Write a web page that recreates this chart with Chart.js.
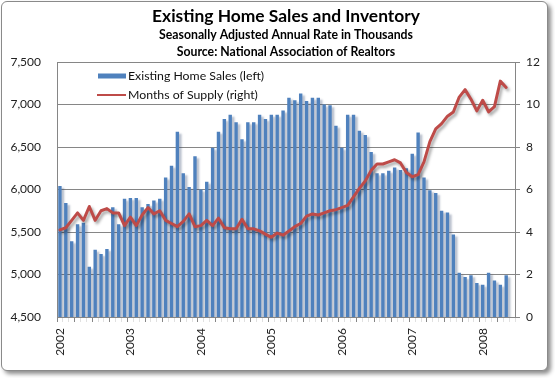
<!DOCTYPE html>
<html><head><meta charset="utf-8">
<script src="https://cdn.jsdelivr.net/npm/chart.js@4.4.1/dist/chart.umd.min.js"></script>
<style>
html,body{margin:0;padding:0;background:#fff;}
#frame{position:absolute;left:1px;top:1px;width:545px;height:368px;border:1px solid #8a8a8a;border-radius:6px;box-shadow:3px 3px 4px rgba(0,0,0,0.45);background:#fff;}
#wrap{position:absolute;left:0;top:0;width:555px;height:378px;}
</style></head><body>
<div id="frame"></div>
<div id="wrap"><canvas id="c" width="555" height="378"></canvas></div>
<script>
const titleText = 'Existing Home Sales and Inventory';
const subtitleLines = ['Seasonally Adjusted Annual Rate in Thousands', 'Source: National Association of Realtors'];
const seriesNames = ['Existing Home Sales (left)', 'Months of Supply (right)'];
const yearTicks = ['2002','2003','2004','2005','2006','2007','2008'];
const months = [
 '2002-01','2002-02','2002-03','2002-04','2002-05','2002-06','2002-07','2002-08','2002-09','2002-10','2002-11','2002-12',
 '2003-01','2003-02','2003-03','2003-04','2003-05','2003-06','2003-07','2003-08','2003-09','2003-10','2003-11','2003-12',
 '2004-01','2004-02','2004-03','2004-04','2004-05','2004-06','2004-07','2004-08','2004-09','2004-10','2004-11','2004-12',
 '2005-01','2005-02','2005-03','2005-04','2005-05','2005-06','2005-07','2005-08','2005-09','2005-10','2005-11','2005-12',
 '2006-01','2006-02','2006-03','2006-04','2006-05','2006-06','2006-07','2006-08','2006-09','2006-10','2006-11','2006-12',
 '2007-01','2007-02','2007-03','2007-04','2007-05','2007-06','2007-07','2007-08','2007-09','2007-10','2007-11','2007-12',
 '2008-01','2008-02','2008-03','2008-04','2008-05','2008-06'
];
const homeSales = [
 6040,5840,5390,5590,5610,5090,5290,5240,5300,5790,5590,5890,
 5900,5900,5790,5830,5870,5890,6140,6280,6680,6190,6030,6390,
 6000,6090,6490,6680,6830,6880,6790,6590,6790,6790,6880,6830,
 6880,6880,6930,7080,7050,7130,7040,7080,7080,7000,6990,6750,
 6490,6880,6880,6690,6640,6440,6190,6190,6220,6260,6230,6250,
 6420,6670,6140,5990,5960,5750,5730,5470,5020,4970,4990,4900,
 4880,5020,4930,4880,4990
];
const monthsSupply = [
 4.1,4.2,4.55,4.9,4.55,5.2,4.55,5.0,5.1,4.9,4.9,4.3,
 4.7,4.3,4.8,5.15,4.85,5.0,4.55,4.4,4.25,4.5,4.85,4.25,
 4.3,4.55,4.3,4.65,4.2,4.15,4.15,4.6,4.15,4.15,4.05,3.9,
 3.75,3.95,3.85,4.05,4.25,4.4,4.75,4.85,4.8,4.9,5.0,5.05,
 5.15,5.25,5.65,6.05,6.4,6.9,7.2,7.2,7.3,7.4,7.25,6.8,
 6.6,6.7,7.3,8.25,8.85,9.1,9.45,9.65,10.35,10.7,10.25,9.7,
 10.2,9.65,9.9,11.1,10.8
];

const BAR = '#4F81BD', LINE = '#BE4B48', GRID = '#868686';
const FONT = 'Lato';

function fitSize(ctx, text, weight, target){
  ctx.font = weight + ' 20px ' + FONT;
  return 20 * target / ctx.measureText(text).width;
}

const shadowPlugin = {
  id: 'shadows',
  beforeDatasetDraw(chart, args){
    const ctx = chart.ctx; ctx.save();
    if (args.meta.type === 'bar'){
      ctx.shadowColor = 'rgba(40,60,100,0.33)'; ctx.shadowOffsetX = 2.5; ctx.shadowOffsetY = 2; ctx.shadowBlur = 2;
    } else {
      ctx.shadowColor = 'rgba(0,0,0,0.35)'; ctx.shadowOffsetX = 2; ctx.shadowOffsetY = 2.5; ctx.shadowBlur = 3;
    }
  },
  afterDatasetDraw(chart){ chart.ctx.restore(); }
};

const headerPlugin = {
  id: 'header',
  afterDraw(chart){
    const ctx = chart.ctx, ca = chart.chartArea, cx = (ca.left + ca.right) / 2;
    ctx.save();
    ctx.fillStyle = '#000'; ctx.textAlign = 'center'; ctx.textBaseline = 'middle';
    let s = fitSize(ctx, titleText, 'bold', 268);
    ctx.font = 'bold ' + s + 'px ' + FONT; ctx.fillText(titleText, cx, 16);
    s = fitSize(ctx, subtitleLines[0], 'bold', 254);
    ctx.font = 'bold ' + s + 'px ' + FONT;
    ctx.fillText(subtitleLines[0], cx, 35);
    ctx.fillText(subtitleLines[1], cx, 52);
    // legend
    const ls = fitSize(ctx, seriesNames[1], 'normal', 130);
    ctx.font = ls + 'px ' + FONT; ctx.textAlign = 'left'; ctx.fillStyle = '#111';
    ctx.fillStyle = BAR; ctx.fillRect(98, 73.5, 28, 5);
    ctx.fillStyle = '#111'; ctx.fillText(chart.data.datasets[0].label, 128, 76);
    ctx.strokeStyle = LINE; ctx.lineWidth = 2; ctx.beginPath(); ctx.moveTo(97, 95); ctx.lineTo(126, 95); ctx.stroke();
    ctx.fillText(chart.data.datasets[1].label, 128, 95);
    ctx.restore();
  }
};

new Chart(document.getElementById('c'), {
  type: 'bar',
  data: {
    labels: months,
    datasets: [
      { type: 'bar', label: seriesNames[0], data: homeSales, yAxisID: 'y', backgroundColor: BAR, borderWidth: 0,
        categoryPercentage: 1.0, barPercentage: 0.58, order: 2 },
      { type: 'line', label: seriesNames[1], data: monthsSupply, yAxisID: 'y1', borderColor: LINE, borderWidth: 3,
        pointRadius: 0, tension: 0, borderJoinStyle: 'round', borderCapStyle: 'round', fill: false, order: 1 }
    ]
  },
  options: {
    responsive: false, animation: false,
    layout: { padding: { left: 7, right: 0, top: 62, bottom: 16 } },
    plugins: { legend: { display: false }, tooltip: { enabled: false }, title: { display: false } },
    scales: {
      x: {
        offset: true,
        grid: { offset: true, drawOnChartArea: false, drawTicks: true, tickLength: 5,
          color: c => (c.index % 3 === 0 ? GRID : 'rgba(134,134,134,0.25)') },
        border: { display: true, color: GRID },
        ticks: { autoSkip: false, minRotation: 90, maxRotation: 90, padding: 6, color: '#222',
          font: { family: FONT, size: 12 },
          callback: (v, i) => (i % 12 === 0 ? yearTicks[i / 12] : '') },
        afterFit: s => { s.height = 45; }
      },
      y: {
        position: 'left', min: 4500, max: 7500,
        grid: { color: GRID, drawTicks: false },
        border: { display: true, color: GRID },
        ticks: { stepSize: 500, padding: 16, color: '#222', font: { family: FONT, size: 12 },
          callback: v => v.toLocaleString('en-US') },
        afterFit: s => { s.width = 50; }
      },
      y1: {
        position: 'right', min: 0, max: 12,
        grid: { drawOnChartArea: false, drawTicks: true, tickLength: 5, color: GRID },
        border: { display: true, color: GRID },
        ticks: { stepSize: 2, padding: 6, color: '#222', font: { family: FONT, size: 12 } },
        afterFit: s => { s.width = 40; }
      }
    }
  },
  plugins: [shadowPlugin, headerPlugin]
});
</script>
</body></html>
